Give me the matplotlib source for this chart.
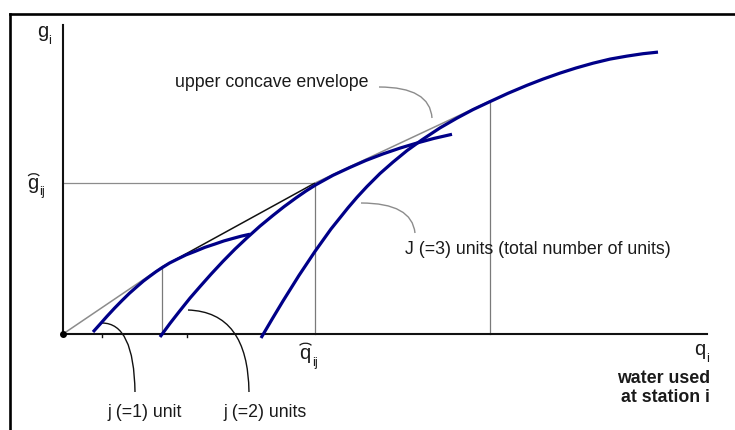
import matplotlib
matplotlib.use("Agg")
import matplotlib.pyplot as plt
from matplotlib.path import Path
from matplotlib.patches import PathPatch, Arc
from matplotlib.lines import Line2D

plt.rcParams['font.family'] = ['Liberation Sans', 'DejaVu Sans']

# ---- data (schematic units: q = water used, g = generation) ----
unit1_q = [0.30, 0.37, 0.44, 0.515, 0.59, 0.665, 0.74, 0.805, 0.87, 0.93, 0.99,
           1.065, 1.14, 1.23, 1.32, 1.42, 1.52, 1.61, 1.70, 1.785, 1.87]
unit1_g = [0.020, 0.098, 0.177, 0.258, 0.3345, 0.408, 0.474, 0.530, 0.579, 0.623, 0.663,
           0.7095, 0.747, 0.791, 0.826, 0.867, 0.900, 0.931, 0.956, 0.979, 0.998]

unit2_q = [0.97, 1.07, 1.17, 1.27, 1.37, 1.48, 1.60, 1.72, 1.84, 1.97, 2.10, 2.21,
           2.33, 2.43, 2.53, 2.70, 2.87, 3.03, 3.20, 3.37, 3.54, 3.71, 3.89]
unit2_g = [-0.03, 0.106, 0.234, 0.359, 0.474, 0.598, 0.727, 0.849, 0.962, 1.079, 1.186, 1.273,
           1.361, 1.430, 1.493, 1.587, 1.666, 1.736, 1.801, 1.859, 1.910, 1.956, 1.997]

unit3_q = [1.98, 2.09, 2.20, 2.36, 2.52, 2.68, 2.85, 2.94, 3.04, 3.17, 3.30, 3.44, 3.59,
           3.77, 3.94, 4.10, 4.27, 4.45, 4.64, 4.80, 4.97, 5.13, 5.30, 5.47, 5.64, 5.80, 5.95]
unit3_g = [-0.04, 0.147, 0.33, 0.586, 0.826, 1.05, 1.262, 1.367, 1.475, 1.605, 1.719, 1.834, 1.942,
           2.061, 2.159, 2.244, 2.324, 2.407, 2.487, 2.549, 2.609, 2.66, 2.708, 2.749, 2.779, 2.803, 2.819]

env_q = [0.0, 0.99, 2.52, 4.27]
env_g = [0.0, 0.67, 1.51, 2.33]
env_colors = ['#8c8c8c', '#111111', '#8c8c8c']

tick_q = [0.39, 1.24]
q_axis_max = 6.44
g_axis_max = 3.09

labels_units = ["j (=1) unit", "j (=2) units", "J (=3) units (total number of units)"]
label_env = "upper concave envelope"

# ---- figure ----
W, H = 735, 430
fig = plt.figure(figsize=(W / 100, H / 100), dpi=100)
ax = fig.add_axes([0, 0, 1, 1])
ax.set_xlim(-0.63, 6.72)
ax.set_ylim(-0.96, 3.34)
ax.axis('off')

# frame (partial box)
fig.add_artist(Line2D([10 / W, 1.0], [1 - 14 / H, 1 - 14 / H], color='black', lw=1.9))
fig.add_artist(Line2D([10 / W, 10 / W], [0.0, 1 - 14 / H], color='black', lw=1.9))

# guide lines
ax.plot([0, env_q[2]], [env_g[2], env_g[2]], color='#8c8c8c', lw=0.9, zorder=1)
for qq, gg in zip(env_q[1:], env_g[1:]):
    ax.plot([qq, qq], [0, gg], color='#7a7a7a', lw=0.9, zorder=1)

# envelope segments
for i in range(len(env_q) - 1):
    ax.plot(env_q[i:i + 2], env_g[i:i + 2], color=env_colors[i], lw=1.1,
            zorder=2, solid_capstyle='butt')

# axes
ax.plot([0, q_axis_max], [0, 0], color='#111111', lw=1.5, zorder=3)
ax.plot([0, 0], [0, g_axis_max], color='#111111', lw=1.5, zorder=3)
ax.plot([0], [0], 'o', color='black', ms=4, zorder=4)
for tq in tick_q:
    ax.plot([tq, tq], [0, -0.03], color='#111111', lw=1.0, zorder=3)

# unit curves
blue = '#000088'
for qs, gs in [(unit1_q, unit1_g), (unit2_q, unit2_g), (unit3_q, unit3_g)]:
    ax.plot(qs, gs, color=blue, lw=2.3, zorder=5, solid_capstyle='butt',
            solid_joinstyle='round')


def connector(p0, c, p1, color, lw):
    path = Path([p0, c, p1], [Path.MOVETO, Path.CURVE3, Path.CURVE3])
    ax.add_patch(PathPatch(path, fill=False, edgecolor=color, lw=lw, zorder=2))


connector((3.16, 2.47), (3.67, 2.47), (3.69, 2.16), '#8c8c8c', 1.0)
connector((2.98, 1.31), (3.49, 1.31), (3.52, 1.01), '#8c8c8c', 1.0)
connector((0.39, 0.11), (0.71, 0.11), (0.72, -0.58), '#111111', 1.0)
connector((1.25, 0.24), (1.85, 0.22), (1.86, -0.58), '#111111', 1.0)

fs = 12.8
fs_sym = 14.5
fs_sub = 9
tc = '#1a1a1a'
ax.text(1.12, 2.47, label_env, fontsize=fs, color=tc, va='baseline', ha='left')
ax.text(3.42, 0.80, labels_units[2], fontsize=fs, color=tc, va='baseline', ha='left')
ax.text(0.44, -0.83, labels_units[0], fontsize=fs, color=tc, va='baseline', ha='left')
ax.text(1.60, -0.83, labels_units[1], fontsize=fs, color=tc, va='baseline', ha='left')
ax.text(6.47, -0.487, "water used", fontsize=fs, color=tc, va='baseline', ha='right',
        fontweight='bold')
ax.text(6.47, -0.68, "at station i", fontsize=fs, color=tc, va='baseline', ha='right',
        fontweight='bold')

# g_i (y-axis label)
ax.text(-0.26, 2.97, "g", fontsize=fs_sym, color=tc, va='baseline', ha='left')
ax.text(-0.145, 2.895, "i", fontsize=fs_sub, color=tc, va='baseline', ha='left')
# g-hat_ij
ax.text(-0.355, 1.45, "g", fontsize=fs_sym, color=tc, va='baseline', ha='left')
ax.text(-0.235, 1.385, "ij", fontsize=fs_sub, color=tc, va='baseline', ha='left')
ax.add_patch(Arc((-0.293, 1.565), 0.12, 0.075, theta1=15, theta2=165, color=tc, lw=0.9))
# q-hat_ij
ax.text(2.365, -0.25, "q", fontsize=fs_sym, color=tc, va='baseline', ha='left')
ax.text(2.49, -0.32, "ij", fontsize=fs_sub, color=tc, va='baseline', ha='left')
ax.add_patch(Arc((2.425, -0.13), 0.13, 0.075, theta1=15, theta2=165, color=tc, lw=0.9))
# q_i (x-axis label)
ax.text(6.315, -0.21, "q", fontsize=fs_sym, color=tc, va='baseline', ha='left')
ax.text(6.435, -0.28, "i", fontsize=fs_sub, color=tc, va='baseline', ha='left')

fig.savefig('out.png', dpi=100)
